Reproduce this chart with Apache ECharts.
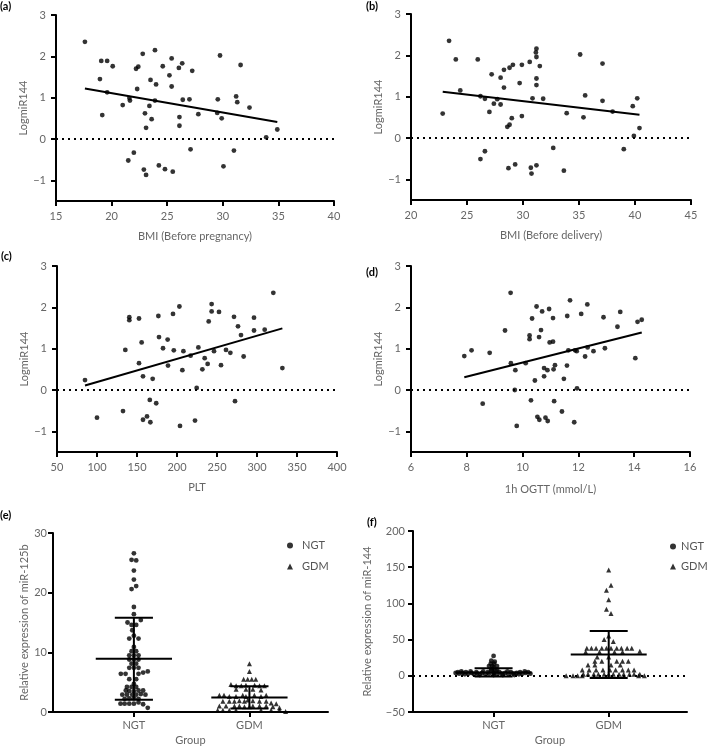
<!DOCTYPE html>
<html>
<head>
<meta charset="utf-8">
<script src="https://cdn.jsdelivr.net/npm/echarts@6/dist/echarts.min.js"></script>
<style>
html,body{margin:0;padding:0;background:#fff;}
#chart{width:709px;height:748px;}
</style>
</head>
<body>
<div id="chart"></div>
<script>
// ---------- Panel (a): BMI (Before pregnancy) vs LogmiR144 ----------
const aX = [17.6,18.95,19.07,19.16,19.6,19.6,20.1,21.0,21.5,21.6,21.65,22.0,22.2,22.4,22.3,22.8,22.9,23.0,23.1,23.1,23.4,23.5,23.6,23.9,23.9,24.0,24.25,24.6,24.8,25.2,25.4,25.4,25.5,26.05,26.1,26.1,26.35,26.4,27.0,27.1,27.25,27.8,29.55,29.5,29.75,29.9,30.06,31.0,31.2,31.3,31.6,32.4,33.9,34.9];
const aY = [2.35,1.45,1.89,0.58,1.89,1.13,1.76,0.82,-0.52,0.99,0.93,-0.33,1.70,1.75,1.21,2.06,-0.74,0.62,0.27,-0.87,0.80,1.43,0.48,2.15,0.93,1.32,-0.64,1.76,-0.73,1.54,1.95,1.27,-0.79,1.72,0.53,0.32,1.83,0.95,0.96,-0.25,1.65,0.60,0.96,0.63,2.02,0.50,-0.66,-0.28,1.03,0.89,1.79,0.76,0.04,0.23];
const aFit = [[17.6,1.22],[34.9,0.41]];

// ---------- Panel (b): BMI (Before delivery) ----------
const bX = [22.83,23.4,24.0,24.4,25.96,26.2,26.2,26.6,26.6,27.0,27.2,27.4,27.7,28.0,28.0,28.3,28.3,28.6,28.7,28.8,28.8,29.0,29.1,29.3,29.7,29.9,29.9,30.6,30.7,30.76,30.85,31.2,31.15,31.2,31.2,31.2,31.2,31.5,31.8,32.7,33.65,33.9,35.1,35.4,35.55,37.1,37.1,38.0,39.0,39.8,39.9,40.2,40.4];
const bY = [0.59,2.35,1.90,1.15,1.90,-0.51,1.01,-0.32,0.95,0.63,1.54,0.83,0.94,0.81,1.46,1.65,1.22,0.27,-0.73,1.70,0.32,0.48,1.77,-0.64,1.33,1.77,0.53,1.84,-0.72,-0.86,0.96,2.16,2.07,1.96,1.44,1.28,-0.66,1.74,0.95,-0.24,-0.79,0.60,2.02,0.50,1.03,1.80,0.90,0.64,-0.27,0.77,0.05,0.96,0.24];
const bFit = [[22.83,1.12],[40.4,0.56]];

// ---------- Panel (c): PLT ----------
const cX = [85,100,132.5,135.4,140.4,140.4,152.5,152.5,155.8,157.5,157.5,162.5,166,166.7,169.6,174,176.7,177.5,182.5,188.3,188.75,195,196,203,203.75,206.7,208,217,222.5,224.6,226.7,231.7,234.6,238.3,239.6,243.3,243.3,246.25,252.5,255,261.25,266.7,271.25,272.5,276.25,280,283.3,296.25,296.25,309.6,320.4,331.7];
const cY = [0.24,-0.67,-0.51,0.97,1.76,1.69,1.73,0.65,1.15,-0.72,0.33,-0.64,-0.24,-0.78,0.27,-0.32,1.79,1.28,1.01,1.22,0.59,1.84,0.96,2.02,-0.87,0.48,0.94,0.83,-0.74,0.05,1.03,0.50,0.77,0.63,1.66,2.08,1.90,0.94,1.89,0.60,0.97,0.90,1.77,-0.27,1.54,1.33,0.81,1.75,1.44,1.46,2.35,0.53];
const cFit = [[85,0.11],[331.7,1.49]];

// ---------- Panel (d): 1h OGTT ----------
const dX = [7.91,8.17,8.57,8.82,9.37,9.57,9.58,9.74,9.72,9.79,10.11,10.25,10.25,10.3,10.34,10.44,10.5,10.53,10.59,10.6,10.66,10.7,10.77,10.77,10.82,10.89,10.9,10.95,10.97,11.09,11.09,11.11,11.13,11.16,11.41,11.48,11.59,11.6,11.64,11.7,11.85,11.88,11.94,11.95,12.1,12.24,12.32,12.33,12.54,12.9,12.95,13.4,13.5,14.04,14.12,14.27];
const dY = [0.82,0.96,-0.33,0.90,1.44,2.35,0.65,0.48,0.0,-0.87,0.65,1.32,1.23,-0.25,1.73,0.23,2.02,-0.65,1.28,-0.72,1.45,1.90,0.53,0.33,-0.67,0.48,-0.75,1.96,1.15,1.17,1.74,0.50,-0.27,0.60,-0.52,0.27,0.59,1.79,0.96,2.17,-0.78,0.96,0.94,0.04,1.84,0.81,2.07,1.03,0.94,1.76,1.01,1.53,1.89,0.77,1.65,1.70];
const dFit = [[7.91,0.31],[14.27,1.39]];

// ---------- Panel (e): miR-125b, points as [group position, value] ----------
const groups = ['NGT','GDM'];
const eNGT = [[1.0,26.6],[0.98,25.5],[1.02,25.4],[1.0,23.7],[1.0,22.2],[0.98,20.6],[1.02,21.1],[1.0,17.6],[1.0,16.4],[0.945,15.0],[1.06,15.4],[0.98,14.6],[1.02,14.6],[0.986,13.7],[1.0,12.8],[0.96,12.3],[1.04,12.3],[1.0,10.9],[0.98,10.2],[1.02,10.2],[0.96,9.5],[1.0,9.5],[1.04,9.5],[0.96,8.8],[1.0,8.8],[1.04,8.8],[0.98,8.1],[1.02,8.1],[0.96,7.4],[1.0,7.4],[1.04,7.4],[0.887,6.4],[0.928,6.4],[1.04,6.4],[1.08,6.6],[1.12,6.8],[0.96,5.5],[1.02,5.5],[1.0,4.7],[0.94,4.2],[0.98,4.2],[1.02,4.2],[0.93,3.6],[0.96,3.5],[1.0,3.5],[1.04,3.6],[1.08,3.6],[0.9,2.9],[0.94,2.9],[0.986,2.9],[1.02,2.9],[1.06,3.0],[1.1,2.9],[0.92,2.2],[0.96,2.3],[1.0,2.3],[1.04,2.2],[0.884,1.4],[0.92,1.4],[0.96,1.4],[1.0,1.4],[1.04,1.6],[1.08,1.3],[1.12,0.7]];
const eGDM = [[2.0,8.1],[2.0,6.8],[1.95,5.5],[1.985,5.5],[2.02,5.5],[2.055,5.5],[1.84,4.6],[1.885,4.4],[1.93,4.4],[1.97,4.5],[2.045,4.5],[2.087,4.4],[2.13,4.4],[1.885,3.8],[1.97,3.8],[2.03,3.8],[2.1,3.7],[1.74,2.8],[1.78,2.8],[1.826,2.6],[1.884,2.6],[1.942,2.8],[1.97,2.6],[2.043,2.8],[2.1,2.6],[2.145,2.8],[1.77,1.8],[1.826,1.8],[1.87,1.8],[1.913,1.9],[1.957,1.8],[1.986,2.0],[2.03,1.9],[2.087,1.8],[2.145,1.8],[2.188,1.5],[2.232,1.4],[1.74,1.0],[1.797,1.0],[1.87,1.0],[1.913,1.0],[1.957,0.9],[2.0,0.9],[2.03,1.0],[2.087,1.0],[2.145,1.0],[2.203,0.9],[2.26,0.7],[1.725,0.3],[1.77,0.3],[1.826,0.3],[1.884,0.3],[2.1,0.3],[2.188,0.3],[2.26,0.3],[2.313,0.1]];
// mean and SD per group: [position, mean, sd]
const eStats = [[1, 8.94, 6.87],[2, 2.45, 1.85]];

// ---------- Panel (f): miR-144 ----------
const fNGT = [[0.67,4],[0.69,5],[0.70,3],[0.72,6],[0.73,4],[0.75,2],[0.76,5],[0.78,3],[0.80,6],[0.81,4],[0.83,2],[0.85,5],[0.86,3],[0.88,1],[0.90,4],[0.91,6],[0.93,2],[0.95,5],[0.96,3],[0.98,7],[1.0,1],[1.0,4],[1.02,6],[1.03,2],[1.05,5],[1.07,3],[1.08,1],[1.10,4],[1.12,6],[1.13,2],[1.15,5],[1.17,3],[1.18,1],[1.20,4],[1.22,2],[1.23,5],[1.25,3],[1.27,6],[1.28,4],[1.30,5],[1.32,3],[0.98,9],[1.03,8],[1.0,27.5],[0.98,20.8],[1.01,19.5],[0.975,16.7],[1.005,16.7],[0.96,13.5],[0.99,13.2],[1.03,13.5],[1.0,11.5]];
const fGDM = [[2.0,146],[2.02,125],[1.98,118],[2.0,105],[1.98,92],[2.02,86],[1.96,50],[2.04,47.5],[2.0,55],
 [1.81,38],[1.85,38],[1.89,38],[1.94,38],[1.98,38],[2.02,38],[2.07,38],[2.11,38],[2.16,38],[2.2,38],
 [1.8,33],[1.92,33],[2.05,33],[2.12,33],[2.27,34],[1.9,26],[2.0,26],
 [1.88,20],[1.94,20],[2.07,20],[2.12,20],[2.17,20],[1.82,15],[1.88,15],[2.02,15],[2.1,15],
 [1.77,8],[1.83,8],[1.89,8],[1.95,8],[2.01,8],[2.06,8],[2.12,8],[2.17,8],[2.22,8],
 [1.78,2],[1.82,2],[1.87,2],[1.91,2],[1.96,2],[2.0,2],[2.04,2],[2.09,2],[2.13,2],[2.18,2],[2.22,2],[2.27,2],
 [1.63,0],[1.69,0],[1.73,0],[1.77,0],[2.26,0],[2.31,0]];
const fStats = [[1, 4.7, 5.8],[2, 29.5, 32.5]];

// ---------- helpers ----------
const zip = (xs, ys) => xs.map((x, i) => [x, ys[i]]);
const FONT = 'Lato';
const GRAY = '#666';
const minus = v => String(v).replace('-', '\u2212');

function xAx(gi, min, max, interval, name, gap) {
  return {
    type: 'value', gridIndex: gi, min, max, interval, name, nameLocation: 'middle', nameGap: gap,
    nameTextStyle: {color: GRAY, fontSize: 11, fontFamily: FONT},
    axisLine: {onZero: false, lineStyle: {color: '#000', width: 2}},
    axisTick: {length: 5, lineStyle: {color: '#000', width: 2}},
    axisLabel: {color: GRAY, fontSize: 11, fontFamily: FONT, margin: 10, formatter: minus},
    splitLine: {show: false}
  };
}
function yAx(gi, min, max, ticks, name, gap, margin) {
  return {
    type: 'value', gridIndex: gi, min, max, name, nameLocation: 'middle', nameGap: gap,
    nameTextStyle: {color: GRAY, fontSize: 11, fontFamily: FONT},
    axisLine: {onZero: false, lineStyle: {color: '#000', width: 2}},
    axisTick: {length: 5, customValues: ticks, lineStyle: {color: '#000', width: 2}},
    axisLabel: {color: GRAY, fontSize: 11, fontFamily: FONT, margin: margin, customValues: ticks, formatter: minus},
    splitLine: {show: false}
  };
}
function groupX(gi, name) {
  return {
    type: 'value', gridIndex: gi, min: 0.3, max: 2.68, name, nameLocation: 'middle', nameGap: 23,
    nameTextStyle: {color: GRAY, fontSize: 11, fontFamily: FONT},
    axisLine: {onZero: false, lineStyle: {color: '#000', width: 2}},
    axisTick: {length: 5, customValues: [1, 2], lineStyle: {color: '#000', width: 2}},
    axisLabel: {color: GRAY, fontSize: 11, fontFamily: FONT, margin: 8, customValues: [1, 2],
      formatter: v => groups[Math.round(v) - 1] || ''},
    splitLine: {show: false}
  };
}
const zeroLine = {
  silent: true, symbol: 'none', label: {show: false},
  lineStyle: {type: [2, 4], color: '#000', width: 2},
  data: [{yAxis: 0}]
};
function scatter(i, data, withZero) {
  const s = {type: 'scatter', xAxisIndex: i, yAxisIndex: i, data, symbol: 'circle', symbolSize: 4.8,
    itemStyle: {color: '#000'}, z: 3};
  if (withZero) s.markLine = zeroLine;
  return s;
}
function fit(i, data) {
  return {type: 'line', xAxisIndex: i, yAxisIndex: i, data, symbol: 'none',
    lineStyle: {color: '#000', width: 2}, z: 4};
}
function errBars(i, data) {
  return {
    type: 'custom', xAxisIndex: i, yAxisIndex: i, data, z: 5,
    encode: {x: 0, y: 1},
    renderItem: function (params, api) {
      const x = api.value(0), m = api.value(1), s = api.value(2);
      const st = {stroke: '#000', lineWidth: 2};
      const seg = (x1, y1, x2, y2) => {
        const p = api.coord([x1, y1]), q = api.coord([x2, y2]);
        return {type: 'line', shape: {x1: p[0], y1: p[1], x2: q[0], y2: q[1]}, style: st};
      };
      return {type: 'group', children: [
        seg(x, m - s, x, m + s),
        seg(x - 0.33, m, x + 0.33, m),
        seg(x - 0.165, m + s, x + 0.165, m + s),
        seg(x - 0.165, m - s, x + 0.165, m - s)
      ]};
    }
  };
}
const yTicks = [-1, 0, 1, 2, 3];
const panelLabel = (t, left, top) => ({type: 'text', left, top,
  style: {text: t, fill: '#000', font: 'bold 11px ' + FONT}});

const option = {
  animation: false,
  backgroundColor: '#fff',
  grid: [
    {left: 56, top: 15, width: 278, height: 186, outerBoundsMode: 'none'},
    {left: 411, top: 14, width: 280, height: 186, outerBoundsMode: 'none'},
    {left: 57, top: 266, width: 280, height: 186, outerBoundsMode: 'none'},
    {left: 411, top: 266, width: 279, height: 186, outerBoundsMode: 'none'},
    {left: 53, top: 533, width: 275, height: 179, outerBoundsMode: 'none'},
    {left: 413, top: 531, width: 274, height: 181, outerBoundsMode: 'none'}
  ],
  xAxis: [
    xAx(0, 15, 40, 5, 'BMI (Before pregnancy)', 30),
    xAx(1, 20, 45, 5, 'BMI (Before delivery)', 30),
    xAx(2, 50, 400, 50, 'PLT', 30),
    xAx(3, 6, 16, 2, '1h OGTT (mmol/L)', 32),
    groupX(4, 'Group'),
    groupX(5, 'Group')
  ],
  yAxis: [
    yAx(0, -1.5, 3, yTicks, 'LogmiR144', 25, 10),
    yAx(1, -1.5, 3, yTicks, 'LogmiR144', 25, 10),
    yAx(2, -1.5, 3, yTicks, 'LogmiR144', 25, 10),
    yAx(3, -1.5, 3, yTicks, 'LogmiR144', 25, 10),
    yAx(4, 0, 30, [0, 10, 20, 30], 'Relative expression of miR-125b', 20, 6),
    yAx(5, -50, 200, [-50, 0, 50, 100, 150, 200], 'Relative expression of miR-144', 40, 8)
  ],
  legend: [
    {orient: 'vertical', left: 287, top: 540, padding: 0, itemWidth: 6, itemHeight: 6, itemGap: 10,
      textStyle: {color: '#555', fontSize: 11, fontFamily: FONT, padding: [0, 0, 0, 4]},
      data: [{name: 'NGT', icon: 'circle'}, {name: 'GDM', icon: 'triangle'}]},
    {orient: 'vertical', left: 670, top: 541, padding: 0, itemWidth: 6, itemHeight: 6, itemGap: 9,
      textStyle: {color: '#555', fontSize: 11, fontFamily: FONT},
      data: [{name: 'NGT', icon: 'circle'}, {name: 'GDM', icon: 'triangle'}]}
  ],
  graphic: [
    panelLabel('(a)', 0, 1),
    panelLabel('(b)', 366, 1),
    panelLabel('(c)', 1, 251),
    panelLabel('(d)', 366, 267),
    panelLabel('(e)', 0, 510),
    panelLabel('(f)', 367, 517)
  ],
  series: [
    scatter(0, zip(aX, aY), true), fit(0, aFit),
    scatter(1, zip(bX, bY), true), fit(1, bFit),
    scatter(2, zip(cX, cY), true), fit(2, cFit),
    scatter(3, zip(dX, dY), true), fit(3, dFit),
    {type: 'scatter', name: 'NGT', xAxisIndex: 4, yAxisIndex: 4, data: eNGT, symbol: 'circle', symbolSize: 4.8, itemStyle: {color: '#000'}},
    {type: 'scatter', name: 'GDM', xAxisIndex: 4, yAxisIndex: 4, data: eGDM, symbol: 'triangle', symbolSize: 5, itemStyle: {color: '#000'}},
    errBars(4, eStats),
    {type: 'scatter', name: 'NGT', xAxisIndex: 5, yAxisIndex: 5, data: fNGT, symbol: 'circle', symbolSize: 4.8, itemStyle: {color: '#000'}, markLine: zeroLine},
    {type: 'scatter', name: 'GDM', xAxisIndex: 5, yAxisIndex: 5, data: fGDM, symbol: 'triangle', symbolSize: 5, itemStyle: {color: '#000'}},
    errBars(5, fStats)
  ]
};
const chart = echarts.init(document.getElementById('chart'), null, {renderer: 'canvas'});
chart.setOption(option);
</script>
</body>
</html>
